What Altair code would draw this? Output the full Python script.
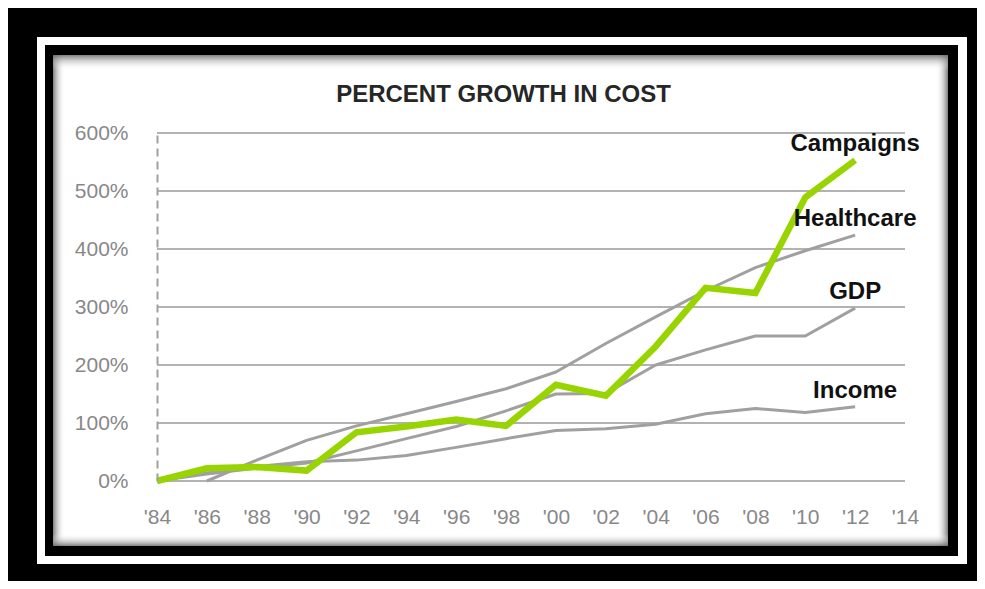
import altair as alt
import pandas as pd

# ---------------- data ----------------
years = [1984, 1986, 1988, 1990, 1992, 1994, 1996, 1998, 2000, 2002, 2004, 2006, 2008, 2010, 2012]
campaigns = [0, 22, 24, 18, 84, 94, 106, 95, 166, 147, 232, 333, 324, 489, 553]
healthcare = [None, 0, 36, 70, 95, 116, 137, 159, 188, 237, 283, 328, 368, 397, 424]
gdp = [0, 12, 22, 31, 52, 73, 94, 121, 150, 151, 200, 226, 250, 250, 298]
income = [0, 14, 25, 33, 36, 44, 58, 73, 87, 90, 98, 116, 125, 118, 128]

series_names = ["Campaigns", "Healthcare", "GDP", "Income"]
series_values = [campaigns, healthcare, gdp, income]

x_ticks = [1984, 1986, 1988, 1990, 1992, 1994, 1996, 1998, 2000, 2002, 2004, 2006, 2008, 2010, 2012, 2014]
y_ticks = [0, 100, 200, 300, 400, 500, 600]
title_text = "PERCENT GROWTH IN COST"

rows = []
for name, vals in zip(series_names, series_values):
    for yr, v in zip(years, vals):
        if v is not None:
            rows.append({"series": name, "year": yr, "value": v})
df = pd.DataFrame(rows)
grid_df = pd.DataFrame({"tick": y_ticks})
one = pd.DataFrame({"k": [0]})

# ---------------- styling ----------------
W, H = 748, 348
GRAY = "#a0a0a0"
GREEN = "#97d400"
LABEL_FONT = "Liberation Sans"

x_axis = alt.Axis(values=x_ticks, labelExpr="\"'\" + substring(toString(datum.value), 2)",
                  title=None, grid=False, domain=False, ticks=False, tickSize=0,
                  labelPadding=36, labelBaseline="middle", labelFontSize=21,
                  labelColor="#888888", labelFont=LABEL_FONT, labelFlush=False, zindex=2)
y_axis = alt.Axis(values=y_ticks, labelExpr="datum.value + '%'", title=None, grid=False,
                  domain=True, domainColor="#a0a0a0", domainDash=[8, 5], domainWidth=2,
                  ticks=False, tickSize=0, labelPadding=29, labelFontSize=21,
                  labelColor="#888888", labelFont=LABEL_FONT, labelFlush=False, zindex=2)
x_scale = alt.Scale(domain=[1984, 2014], nice=False, zero=False)
y_scale = alt.Scale(domain=[0, 600], nice=False)


def X(field):
    return alt.X(f"{field}:Q", scale=x_scale, axis=x_axis)


def Y(field):
    return alt.Y(f"{field}:Q", scale=y_scale, axis=y_axis)


def box(color, x0, x1, y0, y1):
    return alt.Chart(one).mark_rect(color=color).encode(
        x=alt.value(x0), x2=alt.value(x1), y=alt.value(y0), y2=alt.value(y1))


def grad(x1, x2, y1, y2):
    return alt.LinearGradient(
        gradient="linear",
        stops=[alt.GradientStop(color="rgba(105,105,105,0.85)", offset=0),
               alt.GradientStop(color="rgba(255,255,255,0)", offset=1)],
        x1=x1, x2=x2, y1=y1, y2=y2)


# frame: white band, inner black band, white content area
frame_white = box("white", -120, 810, -96, 431)
frame_black = box("black", -112, 801, -88, 423)
content = box("white", -104, 791, -78, 413)
vig_left = box(grad(0, 1, 0, 0), -104, -92, -78, 413)
vig_right = box(grad(1, 0, 0, 0), 779, 791, -78, 413)
vig_top = box(grad(0, 0, 0, 1), -104, 791, -78, -63)
vig_bottom = box(grad(0, 0, 1, 0), -104, 791, 401, 413)

grid = alt.Chart(grid_df).mark_rule(color="#999999", strokeWidth=1.5).encode(y=Y("tick"))

gray_lines = alt.Chart(df).transform_filter(alt.datum.series != "Campaigns").mark_line(
    color=GRAY, strokeWidth=3, strokeJoin="round").encode(
    x=X("year"), y=Y("value"), detail="series:N")

green_line = alt.Chart(df).transform_filter(alt.datum.series == "Campaigns").mark_line(
    color=GREEN, strokeWidth=6.5, strokeJoin="miter").encode(
    x=X("year"), y=Y("value"))

labels = alt.Chart(df).transform_filter(alt.datum.year == 2012).mark_text(
    font=LABEL_FONT, fontSize=24, fontWeight="bold", color="#111111",
    align="center", baseline="middle", dy=-16).encode(
    x=X("year"), y=Y("value"), text="series:N")

title = alt.Chart(one).mark_text(
    font=LABEL_FONT, fontSize=24, fontWeight="bold", color="#262626",
    align="center", baseline="alphabetic").encode(
    x=alt.value(346.5), y=alt.value(-31), text=alt.value(title_text))

chart = alt.layer(
    frame_white, frame_black, content, vig_left, vig_right, vig_top, vig_bottom,
    grid, gray_lines, green_line, labels, title
).properties(
    width=W, height=H,
    autosize=alt.AutoSizeParams(type="none"),
    padding={"left": 149, "top": 125, "right": 72, "bottom": 100},
    background="black",
).configure_view(strokeWidth=0)

chart.save("out.html", embed_options={"renderer": "svg", "actions": False})
